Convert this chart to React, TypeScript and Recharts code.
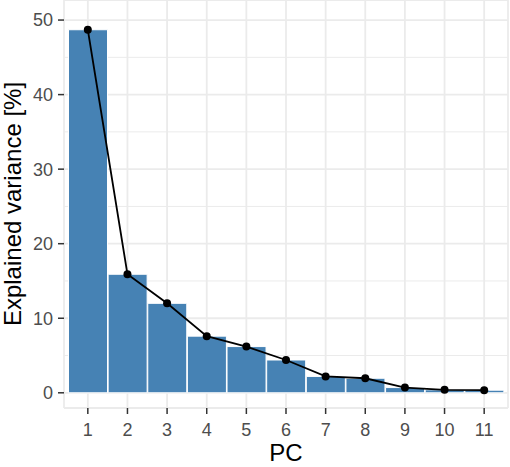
// Scree plot: explained variance per principal component (bars + line)
import {
  Bar,
  CartesianGrid,
  ComposedChart,
  Line,
  XAxis,
  YAxis,
} from "recharts";

const PCS = ["1", "2", "3", "4", "5", "6", "7", "8", "9", "10", "11"];
const VARIANCE = [48.7, 15.9, 12.0, 7.6, 6.2, 4.4, 2.2, 1.95, 0.7, 0.4, 0.35];
const Y_TICKS = [0, 10, 20, 30, 40, 50];
const Y_MINOR = [5, 15, 25, 35, 45];

const BAR = "#4682b4";
const GRID = "#ebebeb";
const TICK_TEXT = "#4d4d4d";
const TICK_LINE = "#333333";
const FONT = "'Liberation Sans', Arial, sans-serif";

const data = PCS.map((pc, i) => ({ pc, value: VARIANCE[i] }));

// 縦軸タイトル(回転)
function YTitle(props: any) {
  const vb = props.viewBox ?? {};
  const cy = (vb.y ?? 0) + (vb.height ?? 0) / 2;
  return (
    <text
      transform={`translate(21, ${cy}) rotate(-90)`}
      textAnchor="middle"
      fontSize={24}
      fill="#000"
      fontFamily={FONT}
    >
      Explained variance [%]
    </text>
  );
}

export default function App() {
  return (
    <div style={{ position: "absolute", left: 0, top: 0, fontFamily: FONT }}>
      <ComposedChart
        width={510}
        height={467}
        data={data}
        margin={{ top: 0, right: 2, bottom: 0, left: 0 }}
        barCategoryGap={0.5}
      >
        {/* 補助目盛り(細線) */}
        <CartesianGrid
          stroke={GRID}
          strokeWidth={1}
          vertical={false}
          horizontalValues={Y_MINOR}
        />
        <CartesianGrid stroke={GRID} strokeWidth={1.8} />
        <XAxis
          dataKey="pc"
          type="category"
          interval={0}
          padding={{ left: 4, right: 4 }}
          height={59}
          axisLine={false}
          tickLine={{ stroke: TICK_LINE, strokeWidth: 1.5 }}
          tickSize={6}
          tickMargin={9}
          tick={{ fill: TICK_TEXT, fontSize: 18, fontFamily: FONT }}
          label={{
            value: "PC",
            position: "insideBottom",
            offset: 6,
            fontSize: 24,
            fill: "#000",
            fontFamily: FONT,
          }}
        />
        <YAxis
          type="number"
          domain={[-2.04, 52.69]}
          allowDataOverflow
          ticks={Y_TICKS}
          width={64}
          axisLine={false}
          tickLine={{ stroke: TICK_LINE, strokeWidth: 1.5 }}
          tickSize={6}
          tickMargin={5}
          tick={{ fill: TICK_TEXT, fontSize: 18, fontFamily: FONT }}
          label={<YTitle />}
        />
        <Bar
          dataKey="value"
          fill={BAR}
          stroke="#ffffff"
          strokeWidth={1}
          isAnimationActive={false}
        />
        <Line
          type="linear"
          dataKey="value"
          stroke="#000"
          strokeWidth={1.8}
          dot={{ r: 4, fill: "#000", stroke: "#000", strokeWidth: 0 }}
          activeDot={false}
          isAnimationActive={false}
        />
      </ComposedChart>
    </div>
  );
}
